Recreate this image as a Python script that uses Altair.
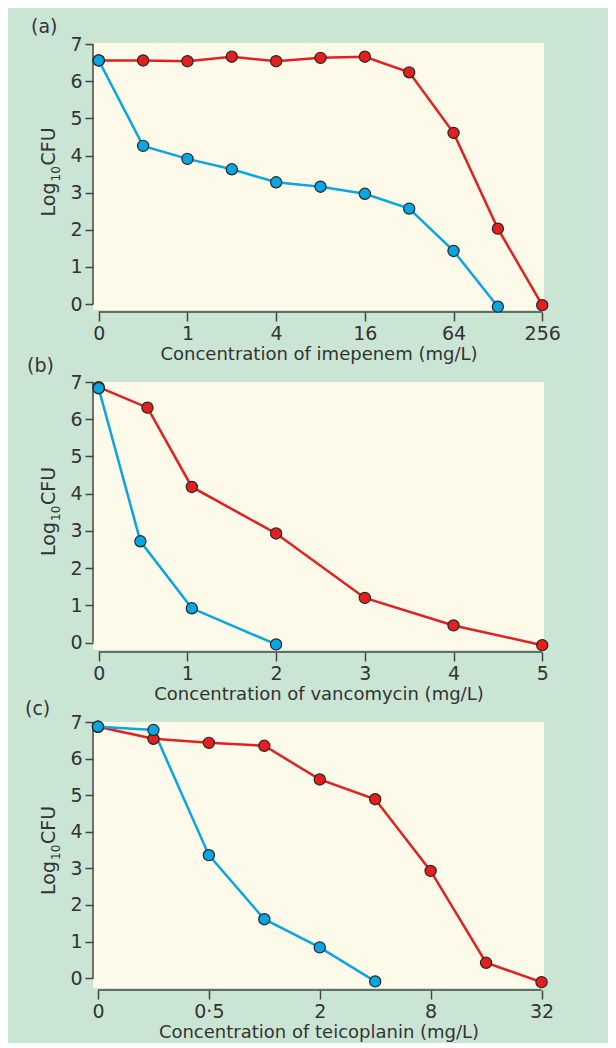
import altair as alt
import numpy as np
import pandas as pd

# ---------------- data ----------------
# (a) imipenem (log2-spaced concentrations)
a_conc_red = [0, 0.5, 1, 2, 4, 8, 16, 32, 64, 128, 256]
a_red = [6.56, 6.56, 6.54, 6.66, 6.54, 6.63, 6.66, 6.24, 4.61, 2.03, -0.03]
a_conc_blue = [0, 0.5, 1, 2, 4, 8, 16, 32, 64, 128]
a_blue = [6.56, 4.26, 3.91, 3.63, 3.28, 3.16, 2.97, 2.57, 1.43, -0.07]
a_ticks = [0, 1, 4, 16, 64, 256]
a_tick_labels = ["0", "1", "4", "16", "64", "256"]

# (b) vancomycin (linear concentrations)
b_conc_red = [0, 0.55, 1.05, 2, 3, 4, 5]
b_red = [6.86, 6.31, 4.18, 2.93, 1.20, 0.46, -0.07]
b_conc_blue = [0, 0.47, 1.05, 2]
b_blue = [6.83, 2.72, 0.92, -0.05]
b_ticks = [0, 1, 2, 3, 4, 5]
b_tick_labels = ["0", "1", "2", "3", "4", "5"]

# (c) teicoplanin (log2-spaced concentrations)
c_conc_red = [0, 0.25, 0.5, 1, 2, 4, 8, 16, 32]
c_red = [6.87, 6.54, 6.43, 6.35, 5.43, 4.89, 2.93, 0.42, -0.11]
c_conc_blue = [0, 0.25, 0.5, 1, 2, 4]
c_blue = [6.87, 6.78, 3.36, 1.61, 0.84, -0.09]
c_ticks = [0, 0.5, 2, 8, 32]
c_tick_labels = ["0", "0·5", "2", "8", "32"]

y_ticks = [0, 1, 2, 3, 4, 5, 6, 7]
y_title_parts = ["Log", "10", "CFU"]

RED = "#e3201f"
BLUE = "#08a6e2"
GREEN = "#cbe5d5"
YELLOW = "#fefaea"
INK = "#333333"
AXIS = "#444444"
FONT = "DejaVu Sans"
W = 451


def log_pos(values, shift):
    return [0.0 if v == 0 else float(np.log2(v)) + shift for v in values]


def panel(label, label_dx, label_dy, xtitle, red_x, red_y, blue_x, blue_y,
          tick_x, tick_labels, xdom, ydom, height):
    expr = "[" + ",".join("'%s'" % t for t in tick_labels) + "][indexof([" + \
        ",".join(repr(float(t)) for t in tick_x) + "], datum.value)]"
    xs = alt.Scale(domain=xdom, nice=False, zero=False)
    ys = alt.Scale(domain=ydom, nice=False, zero=False)
    x_axis = alt.Axis(values=tick_x, labelExpr=expr, title=xtitle, domain=False,
                      grid=False, tickSize=9, tickWidth=1.5, tickColor=AXIS,
                      offset=2, labelPadding=3, labelFontSize=19, titleFontSize=18,
                      labelColor=INK, titleColor=INK, labelFont=FONT, titleFont=FONT,
                      titleFontWeight="normal", titlePadding=2, labelFlush=False)
    y_axis = alt.Axis(values=y_ticks, title="", domain=False, grid=False,
                      tickSize=8, tickWidth=1.5, tickColor=AXIS, labelPadding=3,
                      labelFontSize=19, labelColor=INK, labelFont=FONT)
    xe = alt.X("pos:Q", scale=xs, axis=x_axis)
    ye = alt.Y("val:Q", scale=ys, axis=y_axis)

    red = pd.DataFrame({"pos": red_x, "val": red_y})
    blue = pd.DataFrame({"pos": blue_x, "val": blue_y})

    yrule = alt.Chart(pd.DataFrame({"val": [y_ticks[0]], "val2": [y_ticks[-1]]})).mark_rule(
        color=AXIS, strokeWidth=1.5).encode(x=alt.value(0), y=ye, y2=alt.Y2("val2"))
    xrule = alt.Chart(pd.DataFrame({"pos": [tick_x[0]], "pos2": [tick_x[-1]]})).mark_rule(
        color=AXIS, strokeWidth=1.5).encode(x=xe, x2=alt.X2("pos2"), y=alt.value(height + 2))

    red_line = alt.Chart(red).mark_line(color=RED, strokeWidth=2.5).encode(x=xe, y=ye)
    blue_line = alt.Chart(blue).mark_line(color=BLUE, strokeWidth=2.5).encode(x=xe, y=ye)
    red_pts = alt.Chart(red).mark_circle(size=125, color=RED, opacity=1, stroke="#262626",
                                         strokeWidth=1.2).encode(x=xe, y=ye)
    blue_pts = alt.Chart(blue).mark_circle(size=125, color=BLUE, opacity=1, stroke="#262626",
                                           strokeWidth=1.2).encode(x=xe, y=ye)
    lab = alt.Chart(pd.DataFrame({"t": [label]})).mark_text(
        align="left", baseline="alphabetic", fontSize=19, font=FONT, color=INK).encode(
        x=alt.value(label_dx), y=alt.value(label_dy), text="t:N")

    # rotated y-axis title "Log10CFU" with a real subscript
    y0 = height / 2 + 40
    t_log = alt.Chart(pd.DataFrame({"t": [y_title_parts[0]]})).mark_text(
        angle=270, align="left", baseline="alphabetic", fontSize=19, font=FONT,
        color=INK).encode(x=alt.value(-38), y=alt.value(y0), text="t:N")
    t_sub = alt.Chart(pd.DataFrame({"t": [y_title_parts[1]]})).mark_text(
        angle=270, align="left", baseline="alphabetic", fontSize=12, font=FONT,
        color=INK).encode(x=alt.value(-33), y=alt.value(y0 - 35), text="t:N")
    t_cfu = alt.Chart(pd.DataFrame({"t": [y_title_parts[2]]})).mark_text(
        angle=270, align="left", baseline="alphabetic", fontSize=19, font=FONT,
        color=INK).encode(x=alt.value(-38), y=alt.value(y0 - 51), text="t:N")

    return alt.layer(yrule, xrule, red_line, blue_line, red_pts, blue_pts, lab,
                     t_log, t_sub, t_cfu).properties(width=W, height=height)


pa = panel("(a)", -62, -10, "Concentration of imepenem (mg/L)",
           log_pos(a_conc_red, 2), a_red, log_pos(a_conc_blue, 2), a_blue,
           log_pos(a_ticks, 2), a_tick_labels, [-0.13, 10.04], [-0.16, 7.03], 267)
pb = panel("(b)", -66, -10, "Concentration of vancomycin (mg/L)",
           b_conc_red, b_red, b_conc_blue, b_blue,
           [float(t) for t in b_ticks], b_tick_labels, [-0.064, 5.02], [-0.2, 7.0], 268)
pc = panel("(c)", -68, -7, "Concentration of teicoplanin (mg/L)",
           log_pos(c_conc_red, 3), c_red, log_pos(c_conc_blue, 3), c_blue,
           log_pos(c_ticks, 3), c_tick_labels, [-0.09, 8.045], [-0.27, 7.0], 266)

chart = alt.vconcat(pa, pb, pc, spacing=72, bounds="flush").properties(
    background=GREEN,
    padding={"left": 17, "top": 10, "right": 47, "bottom": 2},
).configure_view(fill=YELLOW, strokeWidth=0)

chart.save("out.html", embed_options={"renderer": "svg", "actions": False})
